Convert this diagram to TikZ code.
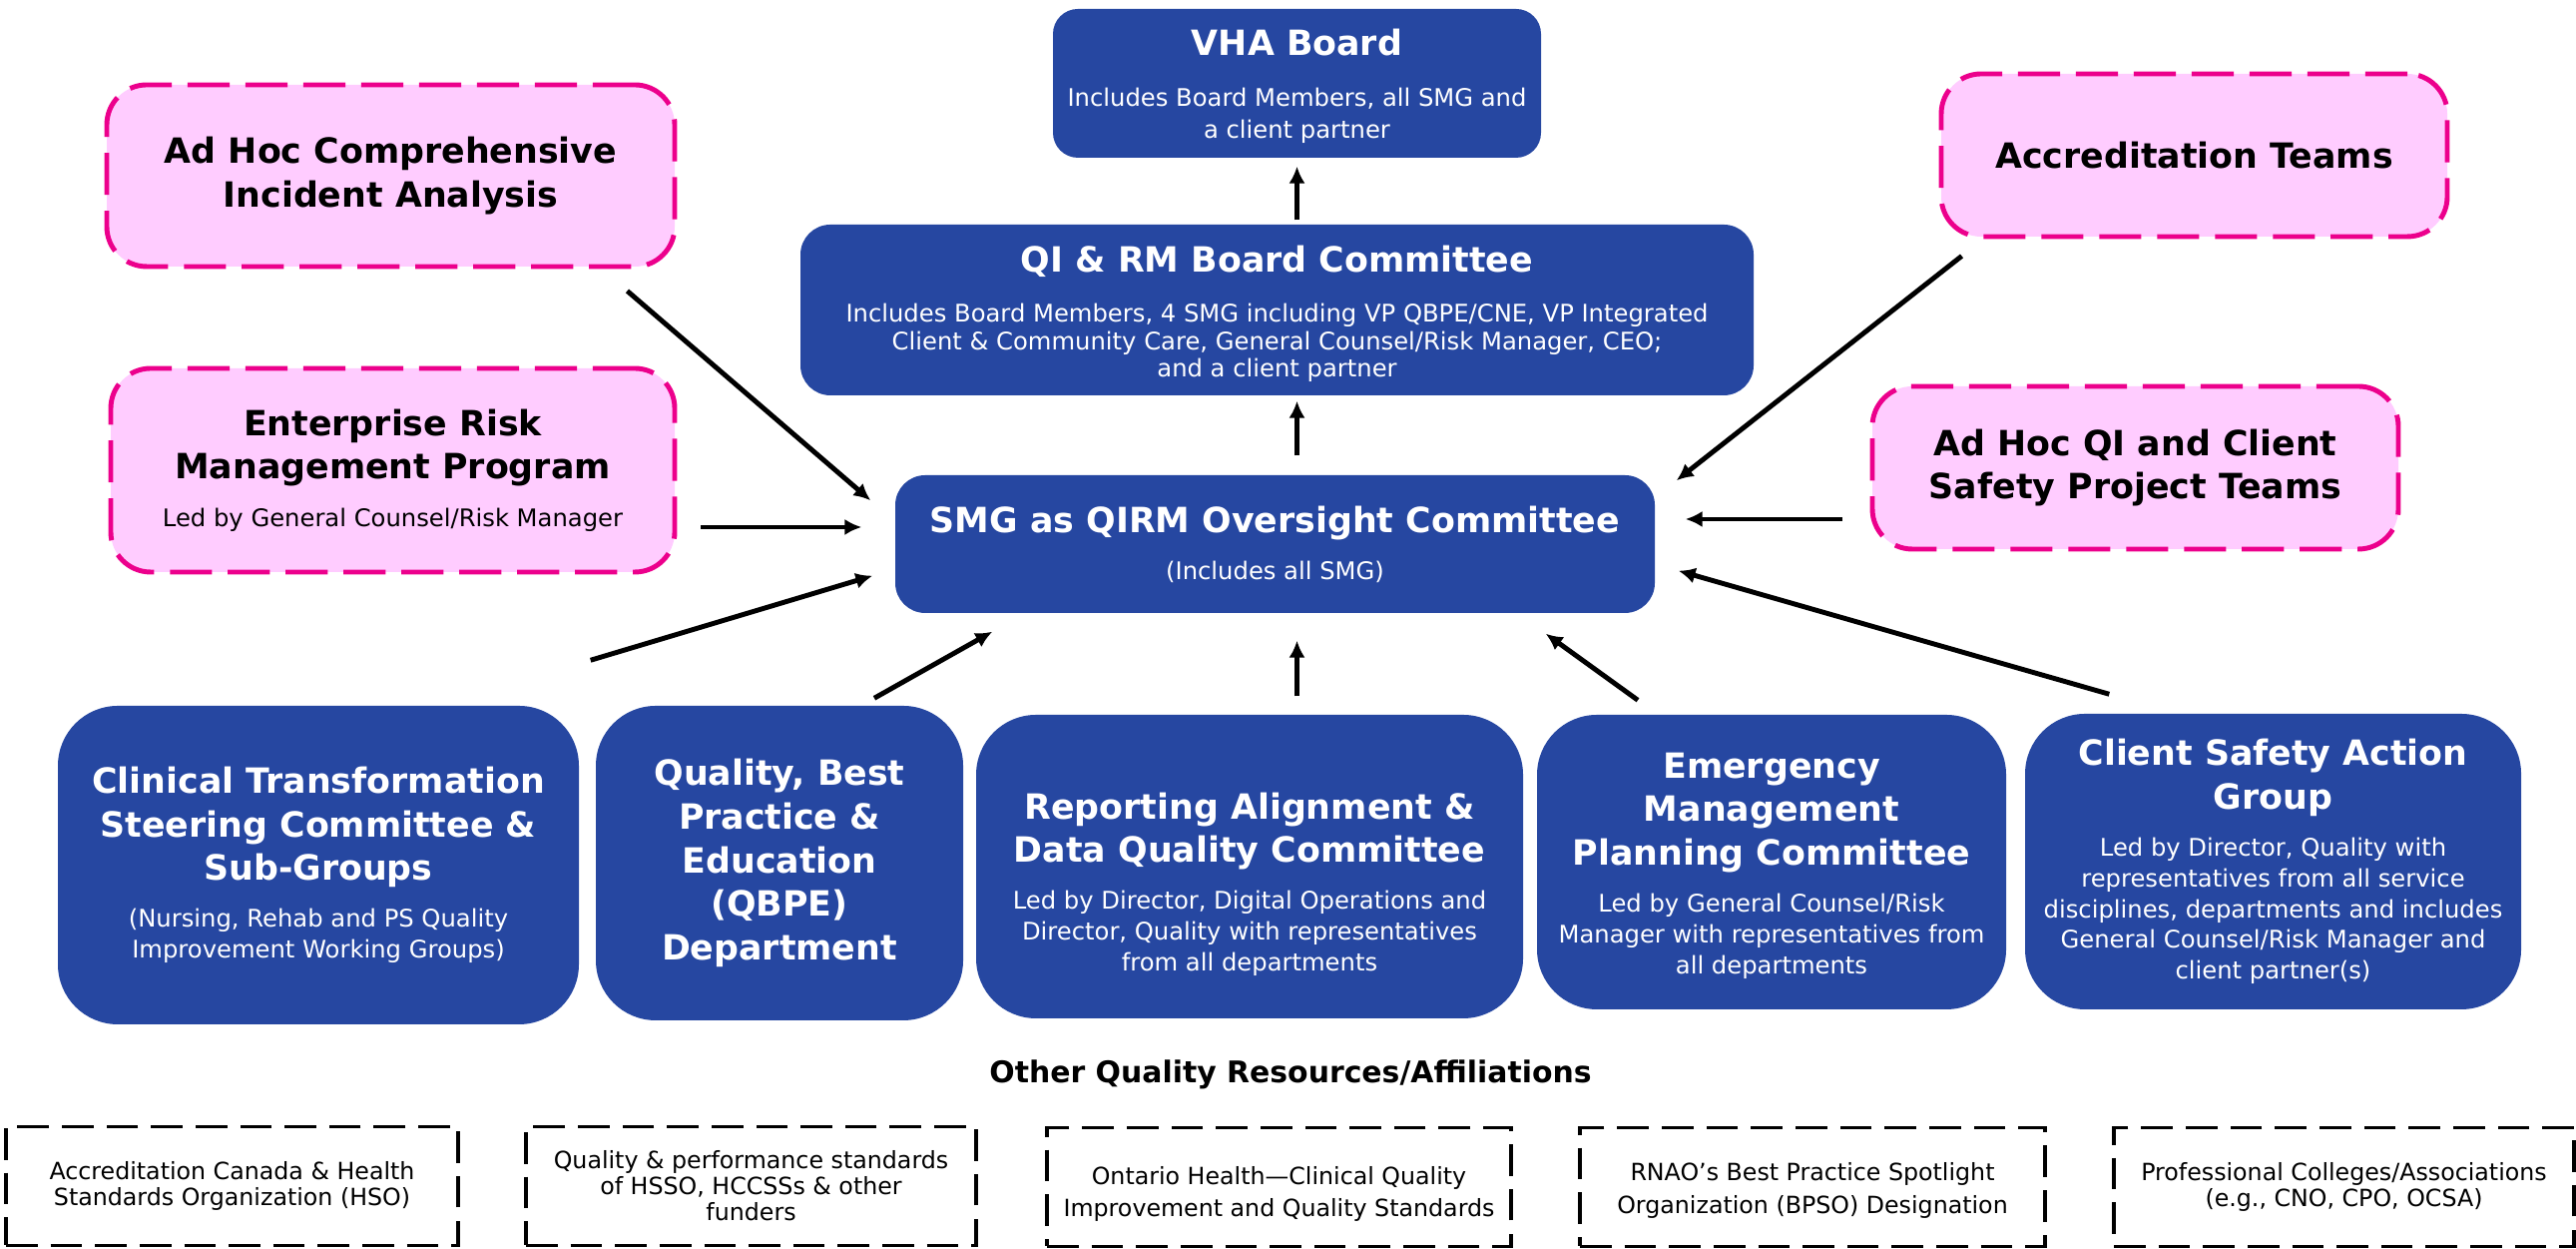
\documentclass[tikz,border=0pt]{standalone}
\usepackage{fontspec}
\setmainfont{DejaVu Sans}
\usetikzlibrary{arrows.meta,calc}
\definecolor{vhablue}{RGB}{38,71,161}
\definecolor{teampink}{RGB}{255,204,255}
\definecolor{teamline}{RGB}{236,0,140}
\newcommand{\ttl}{\fontsize{9.9}{12.4}\selectfont\bfseries}
\newcommand{\bdy}{\fontsize{6.9}{8.8}\selectfont\mdseries}
\newcommand{\tbgap}{\par\vspace{4.6pt}\bdy}
\begin{document}
\begin{tikzpicture}[
  bluebox/.style={rounded corners=0.3cm, fill=vhablue, text=white, align=flush center, inner sep=0pt},
  bigblue/.style={bluebox, rounded corners=0.6cm},
  pinkbox/.style={rounded corners=0.4cm, fill=teampink, draw=teamline, line width=1.4pt, dash pattern=on 12pt off 4.5pt, align=flush center, inner sep=0pt},
  resbox/.style={draw, line width=1.1pt, dash pattern=on 9pt off 3.7pt, align=center, inner sep=0pt, minimum height=1.19cm, font=\fontsize{6.75}{7.4}\selectfont},
  arr/.style={line width=1.4pt, -{Latex[length=4.8pt,width=4.6pt]}}]
\useasboundingbox (0,0) rectangle (25.81,12.51);
\node[bluebox, rounded corners=0.25cm, minimum width=4.89cm, minimum height=1.49cm, text width=4.89cm] (vha) at (12.995,11.675) {\ttl\rule{0pt}{0.33cm}VHA Board\par\vspace{5.4pt}\fontsize{6.9}{9.1}\selectfont\mdseries Includes Board Members, all SMG and\\a client partner\par};
\node[bluebox, minimum width=9.55cm, minimum height=1.71cm, text width=9.55cm] (qirm) at (12.795,9.405) {\ttl\rule{0pt}{0.34cm}QI \& RM Board Committee\par\vspace{6.6pt}\fontsize{6.9}{7.8}\selectfont\mdseries Includes Board Members, 4 SMG including VP QBPE/CNE, VP Integrated\\Client \& Community Care, General Counsel/Risk Manager, CEO;\\and a client partner\par};
\node[bluebox, minimum width=7.61cm, minimum height=1.38cm, text width=7.61cm] (smg) at (12.775,7.06) {\ttl SMG as QIRM Oversight Committee\tbgap (Includes all SMG)\par};
\node[pinkbox, minimum width=5.69cm, minimum height=1.82cm, text width=5.69cm] (adhoc) at (3.915,10.75) {\ttl Ad Hoc Comprehensive\\Incident Analysis\par};
\node[pinkbox, minimum width=5.65cm, minimum height=2.04cm, text width=5.65cm] (erm) at (3.935,7.80) {\ttl Enterprise Risk\\Management Program\tbgap Led by General Counsel/Risk Manager\par};
\node[pinkbox, minimum width=5.07cm, minimum height=1.63cm, text width=5.07cm] (accred) at (21.985,10.955) {\ttl Accreditation Teams\par};
\node[pinkbox, minimum width=5.27cm, minimum height=1.63cm, text width=5.27cm] (adhocqi) at (21.395,7.825) {\ttl Ad Hoc QI and Client\\Safety Project Teams\par};
\node[bigblue, minimum width=5.22cm, minimum height=3.19cm, text width=5.22cm] (clinical) at (3.19,3.845) {\ttl Clinical Transformation\\Steering Committee \&\\Sub-Groups\tbgap (Nursing, Rehab and PS Quality\\Improvement Working Groups)\par};
\node[bigblue, minimum width=3.68cm, minimum height=3.15cm, text width=3.68cm] (qbpe) at (7.81,3.865) {\ttl Quality, Best\\Practice \&\\Education\\(QBPE)\\Department\par};
\node[bigblue, minimum width=5.48cm, minimum height=3.04cm, text width=5.48cm] (report) at (12.52,3.83) {\ttl\rule{0pt}{0.62cm}Reporting Alignment \&\\Data Quality Committee\tbgap Led by Director, Digital Operations and\\Director, Quality with representatives\\from all departments\par};
\node[bigblue, minimum width=4.70cm, minimum height=2.95cm, text width=4.70cm] (emerg) at (17.75,3.875) {\ttl\rule{0pt}{0.33cm}Emergency\\Management\\Planning Committee\tbgap Led by General Counsel/Risk\\Manager with representatives from\\all departments\par};
\node[bigblue, minimum width=4.97cm, minimum height=2.96cm, text width=4.97cm] (csag) at (22.775,3.88) {\ttl Client Safety Action\\Group\tbgap Led by Director, Quality with\\representatives from all service\\disciplines, departments and includes\\General Counsel/Risk Manager and\\client partner(s)\par};
\node[font=\fontsize{8.5}{10}\selectfont\bfseries] (otherres) at (12.93,1.75) {Other Quality Resources/Affiliations};
\node[resbox, minimum width=4.53cm] (res1) at (2.325,0.63) {Accreditation Canada \& Health\\Standards Organization (HSO)};
\node[resbox, minimum width=4.51cm] (res2) at (7.525,0.63) {Quality \& performance standards\\of HSSO, HCCSSs \& other\\funders};
\node[resbox, minimum width=4.65cm] (res3) at (12.815,0.62) {\rule{0pt}{0.32cm}Ontario Health—Clinical Quality\\[1.8pt]Improvement and Quality Standards};
\node[resbox, minimum width=4.66cm] (res4) at (18.16,0.62) {\rule{0pt}{0.25cm}RNAO’s Best Practice Spotlight\\[1.8pt]Organization (BPSO) Designation};
\node[resbox, minimum width=4.61cm] (res5) at (23.485,0.62) {Professional Colleges/Associations\\(e.g., CNO, CPO, OCSA)};
\draw[arr] ($(vha.south |- qirm.north)+(0,0.04)$) -- ($(vha.south)+(0,-0.08)$);
\draw[arr] ($(vha.south |- smg.north)+(0,0.19)$) -- ($(vha.south |- qirm.south)+(0,-0.05)$);
\draw[arr] ($(adhoc.south east)+(-0.5,-0.22)$) -- ($(smg.north west)+(-0.24,-0.26)$);
\draw[arr] ($(erm.east)+(0.24,-0.57)$) -- ($(smg.west |- erm.east)+(-0.33,-0.57)$);
\draw[arr] ($(clinical.north east)+(0.11,0.45)$) -- ($(smg.south west)+(-0.22,0.38)$);
\draw[arr] ($(qbpe.north)+(0.95,0.07)$) -- ($(smg.south west)+(0.98,-0.18)$);
\draw[arr] ($(vha.south |- report.north)+(0,0.18)$) -- ($(vha.south |- smg.south)+(0,-0.27)$);
\draw[arr] ($(emerg.north)+(-1.34,0.14)$) -- ($(smg.south east)+(-1.10,-0.20)$);
\draw[arr] ($(csag.north west)+(0.85,0.19)$) -- ($(smg.south east)+(0.23,0.43)$);
\draw[arr] ($(adhocqi.west)+(-0.28,-0.515)$) -- ($(smg.east |- adhocqi.west)+(0.30,-0.515)$);
\draw[arr] ($(accred.south west)+(0.23,-0.17)$) -- ($(smg.north east)+(0.21,-0.06)$);
\end{tikzpicture}
\end{document}
